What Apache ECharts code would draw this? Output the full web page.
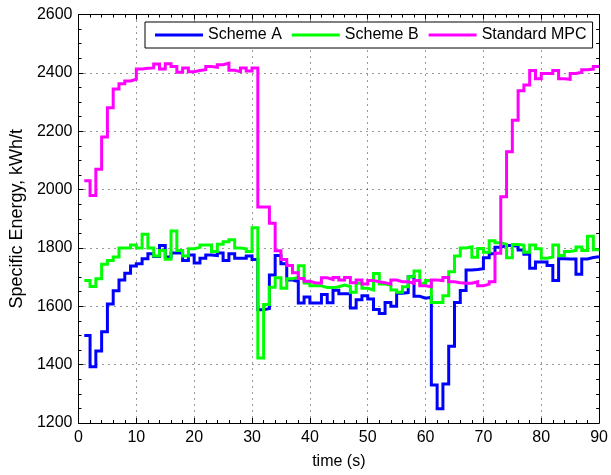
<!DOCTYPE html>
<html>
<head>
<meta charset="utf-8">
<script src="https://cdn.jsdelivr.net/npm/echarts@6/dist/echarts.min.js"></script>
<style>html,body{margin:0;padding:0;background:#fff}#c{width:611px;height:475px}</style>
</head>
<body>
<div id="c"></div>
<script>
// time steps 1..90 (step value held from t to t+1)
const times = [];
for (let t = 1; t <= 90; t++) times.push(t);

const schemeA = [1500,1393,1447,1513,1608,1653,1690,1713,1738,1746,
 1763,1780,1771,1808,1769,1783,1783,1757,1776,1748,
 1765,1776,1774,1783,1757,1780,1765,1765,1772,1760,
 1588,1592,1707,1774,1746,1690,1685,1611,1632,1611,
 1611,1640,1612,1655,1643,1643,1594,1622,1636,1625,
 1589,1575,1613,1600,1645,1647,1701,1634,1628,1631,
 1330,1249,1334,1463,1613,1654,1724,1726,1729,1766,
 1780,1802,1808,1808,1806,1793,1778,1730,1752,1752,
 1740,1688,1763,1762,1762,1710,1762,1767,1770,1770];

const schemeB = [1688,1668,1694,1744,1757,1769,1800,1800,1810,1800,
 1847,1800,1772,1791,1761,1858,1791,1772,1797,1802,
 1810,1810,1788,1813,1821,1828,1800,1797,1788,1869,
 1423,1606,1665,1698,1662,1694,1700,1739,1680,1670,
 1670,1664,1664,1667,1673,1668,1648,1679,1662,1656,
 1712,1676,1673,1656,1648,1667,1701,1721,1679,1688,
 1613,1613,1636,1718,1772,1800,1804,1768,1798,1785,
 1825,1818,1812,1766,1812,1810,1785,1810,1797,1765,
 1769,1810,1774,1788,1791,1803,1791,1840,1794,1794];

const standardMPC = [2030,1980,2070,2180,2280,2345,2363,2372,2378,2413,
 2416,2417,2430,2413,2431,2422,2402,2417,2404,2408,
 2411,2422,2419,2428,2433,2409,2404,2417,2406,2417,
 1940,1940,1885,1790,1760,1740,1715,1695,1686,1680,
 1680,1698,1692,1699,1690,1699,1681,1690,1676,1688,
 1684,1681,1676,1690,1684,1684,1679,1688,1670,1667,
 1690,1688,1699,1684,1681,1679,1679,1684,1670,1676,
 1684,1782,1975,2130,2238,2339,2358,2408,2380,2398,
 2398,2408,2380,2378,2398,2402,2411,2413,2422,2422];

const seriesNames = ['Scheme A', 'Scheme B', 'Standard MPC'];
const seriesColors = ['#0000ff', '#00ff00', '#ff00ff'];
const xTicks = {min: 0, max: 90, interval: 10};
const yTicks = {min: 1200, max: 2600, interval: 200};
const xTitle = 'time (s)';
const yTitle = 'Specific Energy, kWh/t';

const FONT = '"Liberation Sans", Arial, Helvetica, sans-serif';
const pair = arr => times.map((t, i) => [t, arr[i]]);
const plain = v => String(v);

const chart = echarts.init(document.getElementById('c'), null, {renderer: 'canvas'});

const axisCommon = {
  axisLine: {show: true, onZero: false, lineStyle: {color: '#000', width: 1}},
  axisTick: {show: true, inside: true, length: 5, lineStyle: {color: '#000'}},
};

chart.setOption({
  animation: false,
  backgroundColor: '#fff',
  textStyle: {fontFamily: FONT},
  grid: {left: 73.5, right: 9, top: 14.5, bottom: 44, containLabel: false},
  legend: {
    data: seriesNames,
    left: 145, top: 22,
    orient: 'horizontal',
    icon: 'rect',
    itemWidth: 48, itemHeight: 3,
    itemGap: 10,
    padding: [5, 6, 5, 10],
    backgroundColor: '#fff',
    borderColor: '#000', borderWidth: 1,
    textStyle: {fontFamily: FONT, fontSize: 16, color: '#000'}
  },
  xAxis: [
    Object.assign({
      type: 'value', position: 'bottom',
      min: xTicks.min, max: xTicks.max, interval: xTicks.interval,
      name: xTitle, nameLocation: 'middle', nameGap: 31,
      nameTextStyle: {fontFamily: FONT, fontSize: 16, color: '#000'},
      axisLabel: {fontFamily: FONT, fontSize: 16, color: '#000', margin: 7, formatter: plain},
      splitLine: {show: true, lineStyle: {color: '#333', width: 1, type: [1, 5]}},
    }, axisCommon, {minorTick: {show: true, splitNumber: 5, length: 3, lineStyle: {color: '#000'}}}),
    Object.assign({
      type: 'value', position: 'top',
      min: xTicks.min, max: xTicks.max, interval: xTicks.interval,
      axisLabel: {show: false}, splitLine: {show: false}
    }, axisCommon, {minorTick: {show: true, splitNumber: 5, length: 3, lineStyle: {color: '#000'}}})
  ],
  yAxis: [
    Object.assign({
      type: 'value', position: 'left',
      min: yTicks.min, max: yTicks.max, interval: yTicks.interval,
      name: yTitle, nameLocation: 'middle', nameGap: 45, nameRotate: 90,
      nameTextStyle: {fontFamily: FONT, fontSize: 18, color: '#000'},
      axisLabel: {fontFamily: FONT, fontSize: 16, color: '#000', margin: 6, formatter: plain},
      splitLine: {show: true, lineStyle: {color: '#333', width: 1, type: [1, 5]}},
    }, axisCommon, {minorTick: {show: true, splitNumber: 4, length: 3, lineStyle: {color: '#000'}}}),
    Object.assign({
      type: 'value', position: 'right',
      min: yTicks.min, max: yTicks.max, interval: yTicks.interval,
      axisLabel: {show: false}, splitLine: {show: false}
    }, axisCommon, {minorTick: {show: true, splitNumber: 4, length: 3, lineStyle: {color: '#000'}}})
  ],
  series: [schemeA, schemeB, standardMPC].map((arr, i) => ({
    name: seriesNames[i],
    type: 'line',
    step: 'end',
    xAxisIndex: 0, yAxisIndex: 0,
    data: pair(arr),
    showSymbol: false,
    symbol: 'none',
    color: seriesColors[i],
    lineStyle: {color: seriesColors[i], width: 3, join: 'miter'},
    z: 2 + i
  }))
});
</script>
</body>
</html>
